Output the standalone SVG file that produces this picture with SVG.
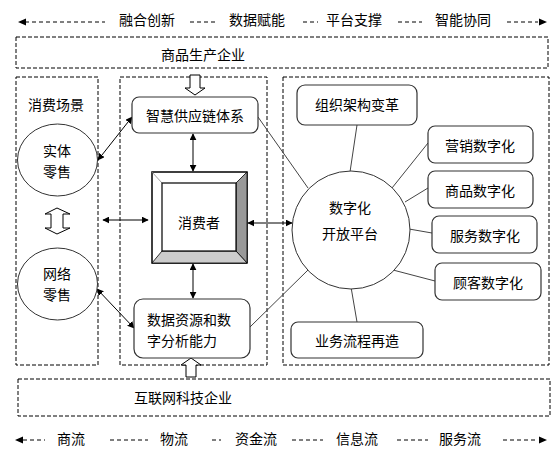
<svg xmlns="http://www.w3.org/2000/svg" width="559" height="453" viewBox="0 0 559 453">
<defs>
<marker id="ah" viewBox="0 0 10 10" refX="9" refY="5" markerWidth="7" markerHeight="7" orient="auto-start-reverse" markerUnits="userSpaceOnUse">
<path d="M0,0 L10,5 L0,10 z" fill="#000"/>
</marker>
<style>
text{font-family:"Noto Sans CJK SC","Noto Sans",sans-serif;font-size:14px;fill:#000;text-anchor:middle;dominant-baseline:central}
.lt{text-anchor:start}
.db{fill:none;stroke:#000;stroke-width:1;stroke-dasharray:4,2}
.rb{fill:#fff;stroke:#333;stroke-width:1.2}
.cir{fill:#fff;stroke:#333;stroke-width:1}
.ln{fill:none;stroke:#444;stroke-width:1}
.ar{fill:none;stroke:#000;stroke-width:1;marker-start:url(#ah);marker-end:url(#ah)}
.dl{fill:none;stroke:#000;stroke-width:1;stroke-dasharray:4,3}
.ho{fill:#fff;stroke:#000;stroke-width:1}
</style>
</defs>
<rect width="559" height="453" fill="#fff"/>

<g id="top-legend">
<path class="dl" d="M25,22 H105 M190,22 H217 M303,22 H318 M398,22 H422 M507,22 H538"/>
<path d="M18,22 L26,18.5 L26,25.5 z M547,22 L539,18.5 L539,25.5 z" fill="#000"/>
<text x="147" y="19">融合创新</text>
<text x="257" y="19">数据赋能</text>
<text x="354" y="19">平台支撑</text>
<text x="463" y="19">智能协同</text>
</g>

<g id="producer">
<rect class="db" x="16" y="37" width="532" height="31"/>
<text x="203" y="54">商品生产企业</text>
</g>

<g id="scene-col">
<rect class="db" x="16" y="77" width="82" height="288"/>
<text x="56" y="104">消费场景</text>
</g>
<g id="mid-col"><rect class="db" x="120" y="77" width="147" height="288"/></g>
<g id="right-col"><rect class="db" x="283" y="77" width="266" height="288"/></g>

<g id="internet">
<rect class="db" x="18" y="379" width="532" height="37"/>
<text x="183" y="397">互联网科技企业</text>
</g>

<g id="bottom-legend">
<path class="dl" d="M23,440 H45 M110,440 H148 M212,440 H221 M292,440 H323 M397,440 H428 M503,440 H538"/>
<path d="M15,440 L23,436.5 L23,443.5 z M547,440 L539,436.5 L539,443.5 z" fill="#000"/>
<text x="71" y="438">商流</text>
<text x="174" y="438">物流</text>
<text x="256" y="438">资金流</text>
<text x="357" y="438">信息流</text>
<text x="460" y="438">服务流</text>
</g>

<g id="connectors">
<line class="ar" x1="98" y1="160" x2="132" y2="117"/>
<line class="ar" x1="97" y1="289" x2="134" y2="328"/>
<line class="ar" x1="103" y1="220" x2="148" y2="220"/>
<line class="ar" x1="193" y1="134" x2="193" y2="171"/>
<line class="ar" x1="193" y1="264" x2="193" y2="298"/>
<line class="ar" x1="248" y1="223" x2="292" y2="223"/>
<line class="ln" x1="258" y1="117" x2="308" y2="188"/>
<line class="ln" x1="250" y1="327" x2="308" y2="270"/>
<line class="ln" x1="357" y1="125" x2="350" y2="172"/>
<line class="ln" x1="428" y1="143" x2="392" y2="188"/>
<line class="ln" x1="428" y1="188" x2="405" y2="202"/>
<line class="ln" x1="432" y1="233" x2="409" y2="229"/>
<line class="ln" x1="435" y1="281" x2="393" y2="270"/>
<line class="ln" x1="357" y1="322" x2="351" y2="287"/>
<path class="ho" d="M190,75 H200 V88 H205 L195,95 L185,88 H190 Z"/>
<path class="ho" d="M186,377 H196 V365 H201 L191,358 L181,365 H186 Z"/>
<path class="ho" d="M57,208 L70,214 H63 V228 H70 L57,234 L45,228 H51 V214 H45 Z"/>
</g>

<g id="physical-retail">
<ellipse class="cir" cx="57.5" cy="160" rx="40" ry="36"/>
<text x="57" y="150">实体</text>
<text x="57" y="171">零售</text>
</g>
<g id="online-retail">
<ellipse class="cir" cx="57.5" cy="284" rx="40" ry="36"/>
<text x="57" y="273">网络</text>
<text x="57" y="294">零售</text>
</g>

<g id="supply-chain">
<rect class="rb" x="132" y="97" width="126" height="36" rx="7"/>
<text x="195" y="115">智慧供应链体系</text>
</g>

<g id="consumer">
<rect x="152" y="172" width="95" height="91" fill="#fff" stroke="#000" stroke-width="1.5"/>
<polygon points="247,172 247,263 236,251 236,183" fill="#999" stroke="#000" stroke-width="0.8"/>
<polygon points="152,263 247,263 236,251 162,251" fill="#ccc" stroke="#000" stroke-width="0.8"/>
<line x1="152" y1="172" x2="162" y2="183" stroke="#888" stroke-width="0.8"/>
<rect x="162" y="183" width="74" height="68" fill="#fff" stroke="#000" stroke-width="1.2"/>
<text x="199" y="222">消费者</text>
</g>

<g id="data-capability">
<rect class="rb" x="134" y="299" width="116" height="59" rx="9"/>
<text class="lt" x="147" y="319">数据资源和数</text>
<text class="lt" x="147" y="340">字分析能力</text>
</g>

<g id="platform">
<circle class="cir" cx="351" cy="230" r="59"/>
<text x="350" y="207">数字化</text>
<text x="350" y="233">开放平台</text>
</g>

<g id="org-change">
<rect class="rb" x="297" y="85" width="120" height="40" rx="8"/>
<text x="357" y="104">组织架构变革</text>
</g>
<g id="marketing">
<rect class="rb" x="428" y="126" width="105" height="37" rx="7"/>
<text x="480" y="145">营销数字化</text>
</g>
<g id="goods">
<rect class="rb" x="428" y="171" width="105" height="37" rx="7"/>
<text x="480" y="190">商品数字化</text>
</g>
<g id="service">
<rect class="rb" x="432" y="216" width="105" height="37" rx="7"/>
<text x="485" y="235">服务数字化</text>
</g>
<g id="customer">
<rect class="rb" x="435" y="263" width="106" height="37" rx="7"/>
<text x="488" y="282">顾客数字化</text>
</g>
<g id="process">
<rect class="rb" x="291" y="322" width="132" height="36" rx="7"/>
<text x="357" y="340">业务流程再造</text>
</g>
</svg>
